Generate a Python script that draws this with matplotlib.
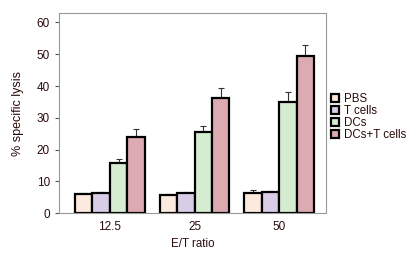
import numpy as np
import matplotlib
matplotlib.use("Agg")
import matplotlib.pyplot as plt

plt.rcParams['font.family'] = ['Liberation Sans', 'DejaVu Sans']

ratios = ['12.5', '25', '50']
groups = ['PBS', 'T cells', 'DCs', 'DCs+T cells']
values = {
    'PBS':         [6.0, 5.8, 6.4],
    'T cells':     [6.2, 6.2, 6.6],
    'DCs':         [15.7, 25.6, 35.1],
    'DCs+T cells': [23.9, 36.1, 49.3],
}
errors = {
    'PBS':         [0.3, 0.3, 0.9],
    'T cells':     [0.6, 0.4, 0.3],
    'DCs':         [1.3, 1.9, 2.9],
    'DCs+T cells': [2.6, 3.2, 3.6],
}
colors = ['#fdeadf', '#d9cce6', '#d5ecd1', '#dbabb1']

fig = plt.figure(figsize=(4.11, 2.54), dpi=100)
ax = fig.add_axes([0.1436, 0.161, 0.649, 0.788])

x = np.arange(len(ratios))
w = 0.206
for i, g in enumerate(groups):
    pos = x + (i - 1.5) * w
    ax.bar(pos, values[g], w, color=colors[i], edgecolor='black',
           linewidth=1.6, label=g, zorder=2)
    ax.errorbar(pos, values[g], yerr=[np.zeros(3), errors[g]], fmt='none',
                ecolor='#333333', elinewidth=0.8, capsize=2.5, capthick=0.8,
                zorder=1)

ax.set_xlim(-0.6, 2.55)
ax.set_ylim(0, 63)
ax.set_yticks(range(0, 61, 10))
ax.set_xticks(x)
ax.set_xticklabels(ratios)
txt = '#2a0a0a'
ax.tick_params(axis='y', direction='out', length=3, colors='#555555',
               labelcolor=txt, labelsize=8.5)
ax.tick_params(axis='x', length=0, labelcolor=txt, labelsize=8.5, pad=6)
for s in ax.spines.values():
    s.set_color('#999999')
    s.set_linewidth(0.8)
ax.set_xlabel('E/T ratio', fontsize=8.3, color=txt, labelpad=3)
ax.set_ylabel('% specific lysis', fontsize=9, color=txt, labelpad=9)

leg = ax.legend(loc='center left', bbox_to_anchor=(0.99, 0.48), frameon=False,
                fontsize=8.3, handlelength=0.7, handleheight=0.7,
                handletextpad=0.4, labelspacing=0.0, borderaxespad=0.3)
for t in leg.get_texts():
    t.set_color(txt)

fig.savefig('out.png', dpi=100)
